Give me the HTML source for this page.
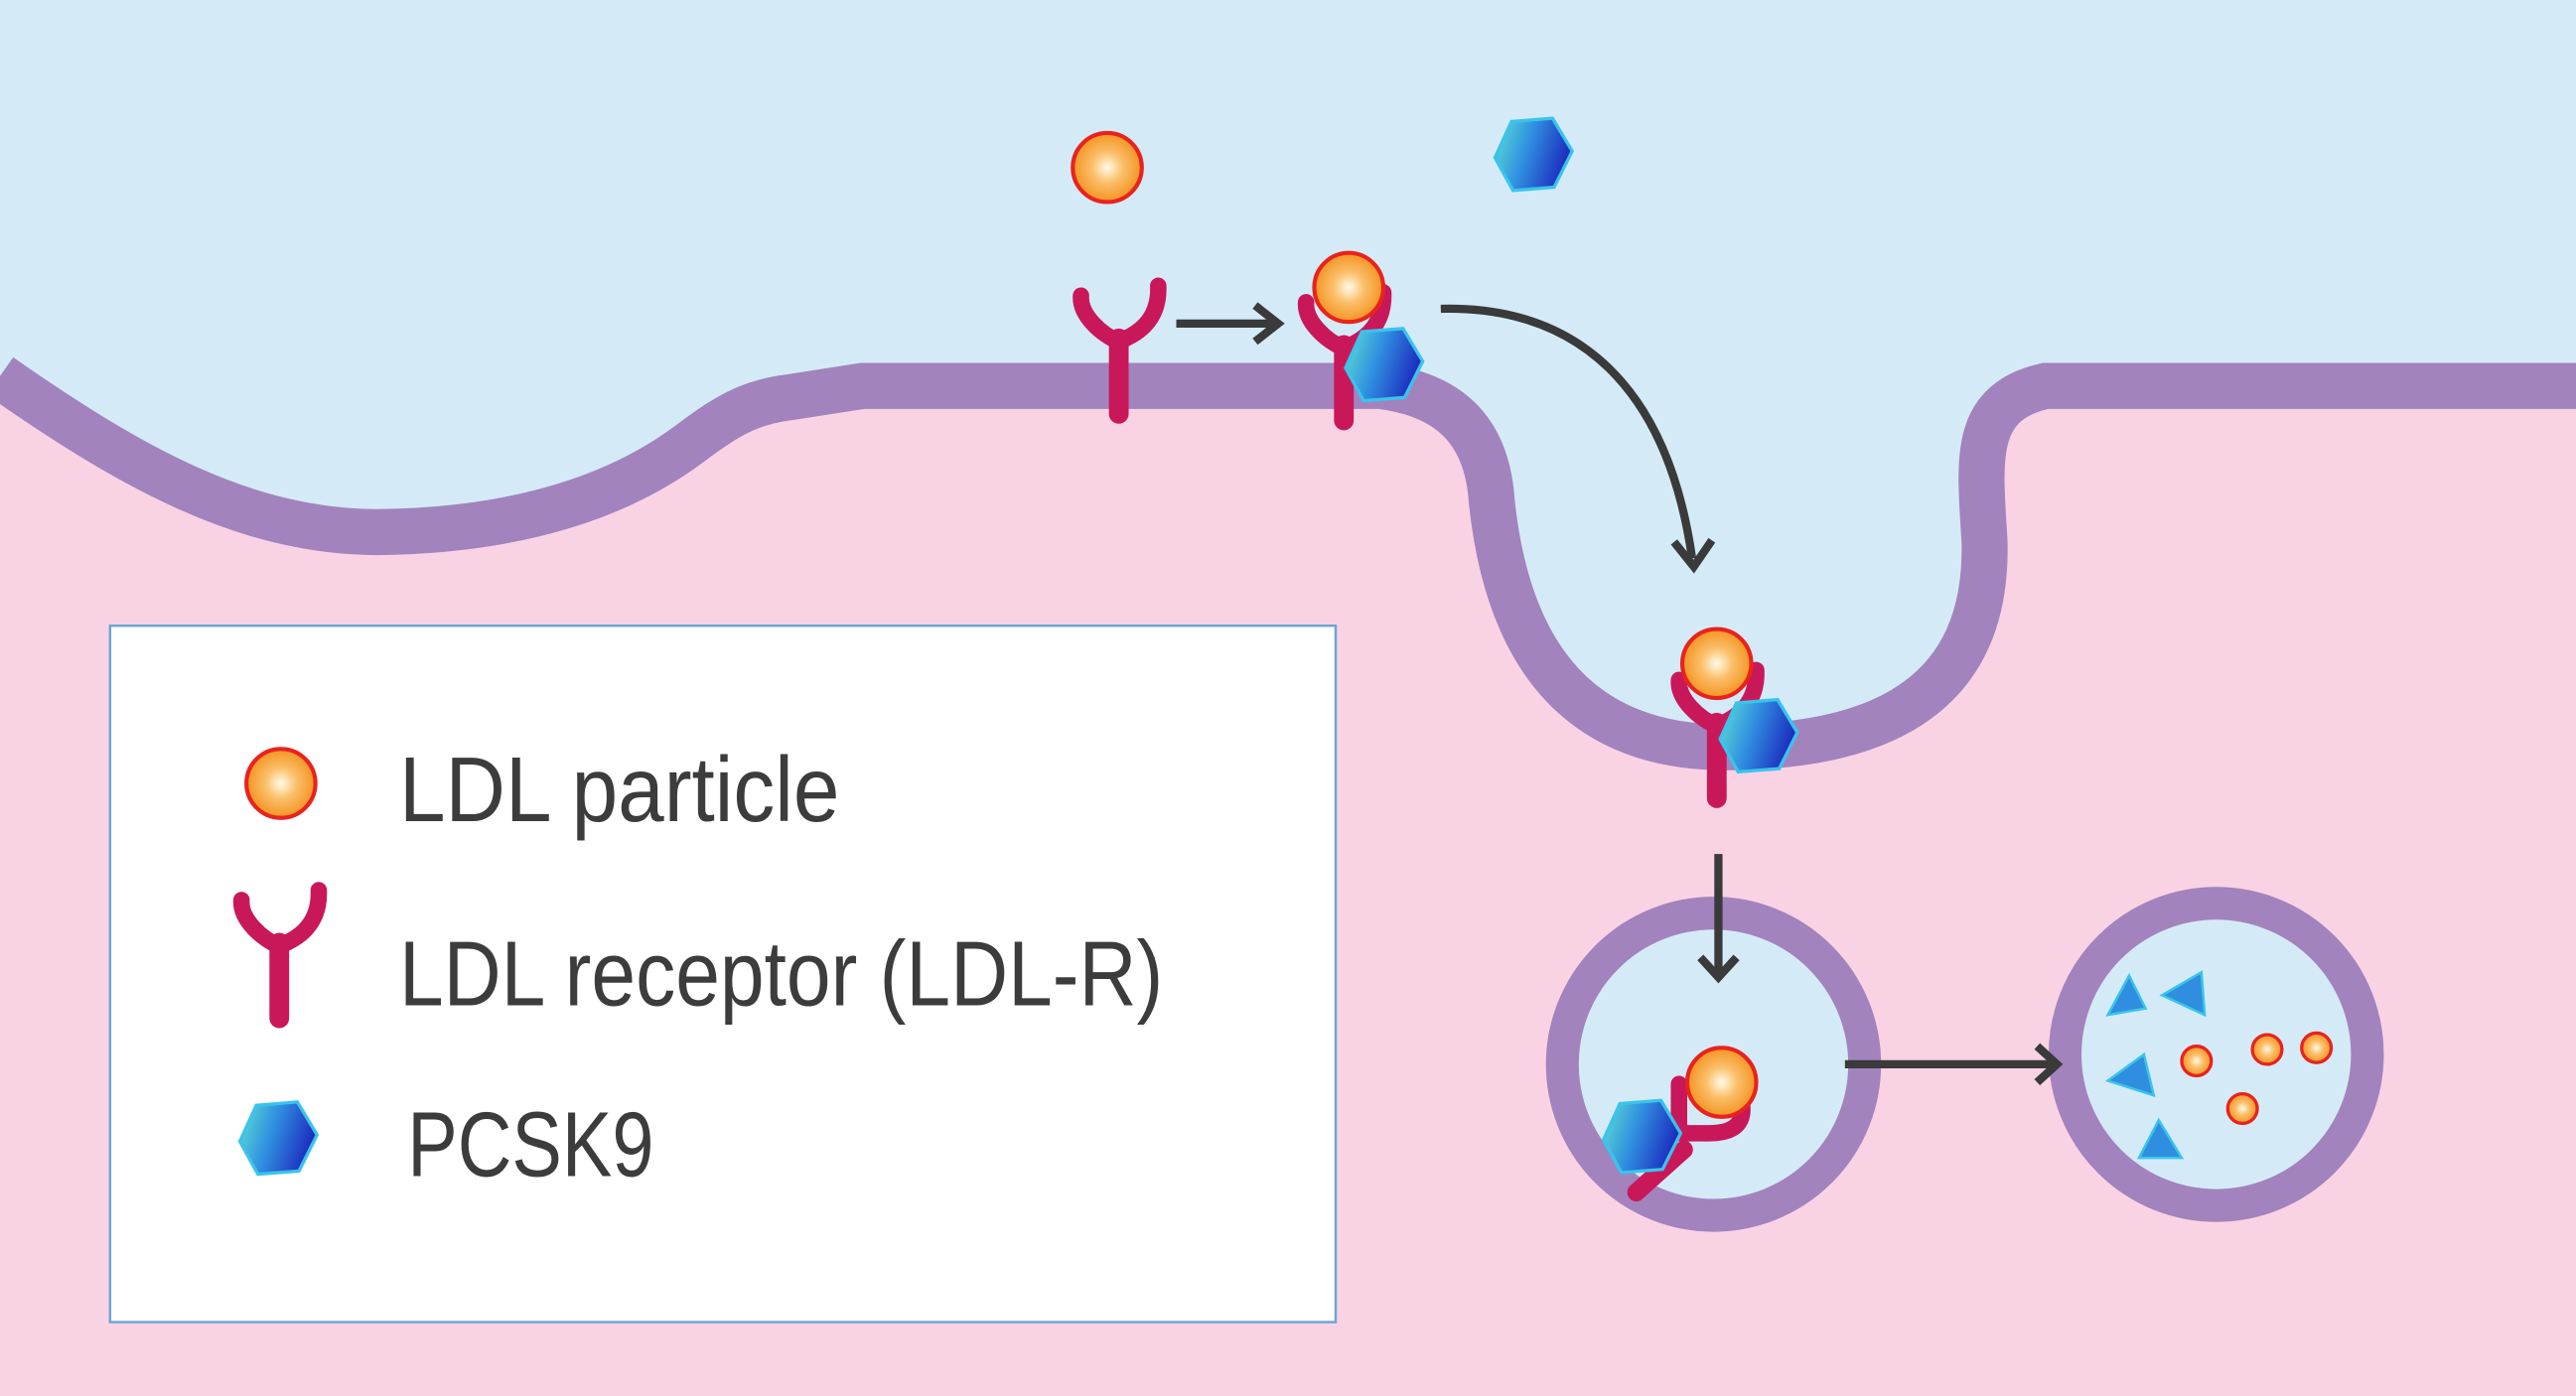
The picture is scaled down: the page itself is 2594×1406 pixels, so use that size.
<!DOCTYPE html>
<html><head><meta charset="utf-8"><style>
html,body{margin:0;padding:0;width:2594px;height:1406px;overflow:hidden;background:#d4ebf7}
svg{display:block}
</style></head><body>
<svg width="2594" height="1406" viewBox="0 0 1568 850" preserveAspectRatio="none" xmlns="http://www.w3.org/2000/svg">
<defs>
<radialGradient id="ldl" cx="0.5" cy="0.5" r="0.5"><stop offset="0" stop-color="#fffbe8"/><stop offset="0.45" stop-color="#fbbf6a"/><stop offset="1" stop-color="#f39422"/></radialGradient>
<linearGradient id="pc" x1="0" y1="0" x2="1" y2="0.3"><stop offset="0" stop-color="#5fe3d3"/><stop offset="0.5" stop-color="#2f8ee0"/><stop offset="1" stop-color="#1d2fbf"/></linearGradient>
<g id="L"><circle r="21" fill="url(#ldl)" stroke="#e8231f" stroke-width="2.5"/></g>
<g id="P"><polygon points="-13,-20 12,-22 24,-2 13,20 -12,22 -23,2" fill="url(#pc)" stroke="#3ac4ec" stroke-width="2"/></g>
<g id="R"><path d="M-23,-30 C-24,-18 -10,-6 0,-2 C10,-6 25,-14 24,-36" fill="none" stroke="#c8185a" stroke-width="10" stroke-linecap="round"/><line x1="0" y1="-4" x2="0" y2="42" stroke="#c8185a" stroke-width="12" stroke-linecap="round"/></g>
</defs>
<rect width="1568" height="850" fill="#d4ebf7"/>
<path d="M0,229 C80,285 150,324 230,324 C320,323 380,300 420,270 C440,255 455,245 480,242 L525,235 L840,235 C880,240 905,260 908,305 C920,420 980,455 1050,455 C1150,455 1210,420 1208,330 C1205,280 1200,245 1245,235 L1568,235 L1568,850 L0,850 Z" fill="#f9d3e4"/>
<path d="M0,229 C80,285 150,324 230,324 C320,323 380,300 420,270 C440,255 455,245 480,242 L525,235 L840,235 C880,240 905,260 908,305 C920,420 980,455 1050,455 C1150,455 1210,420 1208,330 C1205,280 1200,245 1245,235 L1568,235" fill="none" stroke="#a283be" stroke-width="28"/>
<rect x="67" y="381" width="746" height="424" fill="#fff" stroke="#6aa6d6" stroke-width="1.5"/>
<use href="#L" x="171" y="477"/>
<use href="#R" x="170" y="578"/>
<use href="#P" x="169" y="693"/>
<g font-family="Liberation Sans, sans-serif" font-size="56" fill="#3c3c3c">
<text x="243" y="500" textLength="268" lengthAdjust="spacingAndGlyphs">LDL particle</text>
<text x="243" y="612" textLength="465" lengthAdjust="spacingAndGlyphs">LDL receptor (LDL-R)</text>
<text x="248" y="716" textLength="150" lengthAdjust="spacingAndGlyphs">PCSK9</text>
</g>
<use href="#L" x="674" y="102"/>
<use href="#P" x="933" y="94"/>
<use href="#R" x="681" y="210"/>
<use href="#R" x="818" y="214"/>
<use href="#L" x="821" y="175"/>
<use href="#P" x="842" y="222"/>
<use href="#R" x="1045" y="444"/>
<use href="#L" x="1045" y="404"/>
<use href="#P" x="1070" y="448"/>
<circle cx="1043" cy="648" r="92" fill="#d4ebf7" stroke="#a283be" stroke-width="20"/>
<circle cx="1349" cy="642" r="92" fill="#d4ebf7" stroke="#a283be" stroke-width="20"/>
<path d="M1022,660 L1022,690 L1040,690 C1060,690 1062,680 1060,670" fill="none" stroke="#c8185a" stroke-width="10" stroke-linecap="round"/>
<line x1="1025" y1="700" x2="996" y2="726" stroke="#c8185a" stroke-width="11" stroke-linecap="round"/>
<use href="#L" x="1048" y="659"/>
<use href="#P" x="999" y="692"/>
<g fill="#2f8ee0" stroke="#3ac4ec" stroke-width="1.5">
<polygon points="1296,594 1283,618 1306,614"/>
<polygon points="1340,592 1316,606 1342,618"/>
<polygon points="1305,642 1283,658 1311,667"/>
<polygon points="1314,682 1302,705 1328,705"/>
</g>
<g fill="url(#ldl)" stroke="#e8231f" stroke-width="2">
<circle cx="1337" cy="646" r="9"/><circle cx="1380" cy="639" r="9"/><circle cx="1410" cy="638" r="9"/><circle cx="1365" cy="675" r="9"/>
</g>
<g stroke="#3a3a3a" stroke-width="5" fill="none">
<line x1="716" y1="197" x2="778" y2="197"/><polyline points="764,186 778,197 764,208"/>
<path d="M877,188 C960,186 1015,235 1030,340"/><polyline points="1019,330 1031,345 1042,329"/>
<line x1="1046" y1="520" x2="1046" y2="595"/><polyline points="1035,583 1046,595 1057,583"/>
<line x1="1123" y1="648" x2="1252" y2="648"/><polyline points="1240,637 1252,648 1240,659"/>
</g>
</svg>
</body></html>
